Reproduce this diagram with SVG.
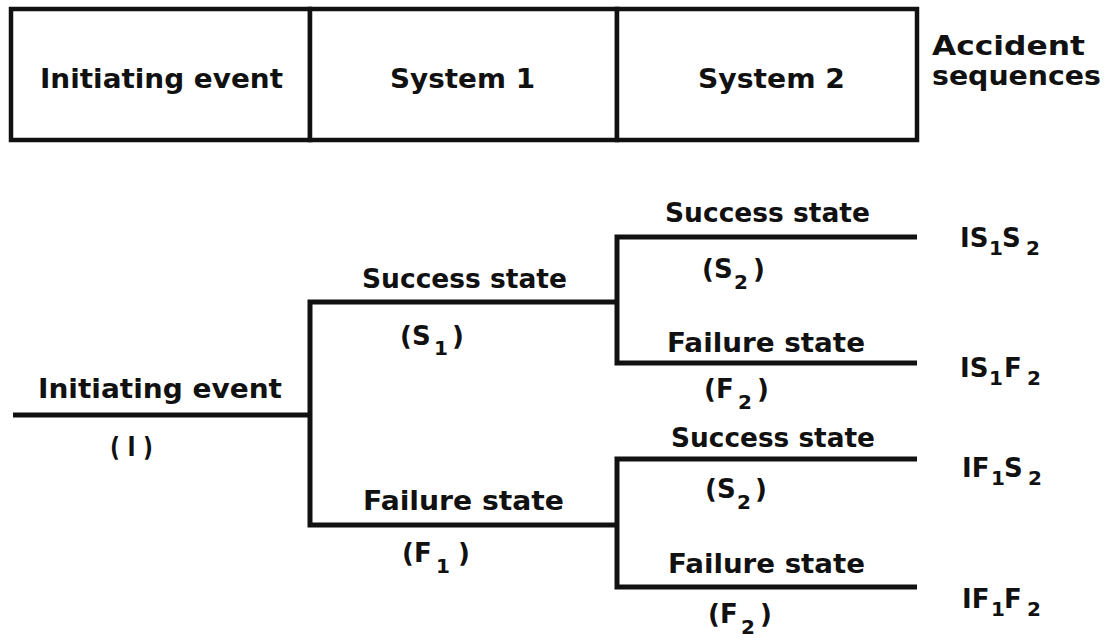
<svg xmlns="http://www.w3.org/2000/svg" width="1105" height="642" viewBox="0 0 1105 642">
<style>
text{font-family:"DejaVu Sans","Liberation Sans",sans-serif;font-weight:bold;font-size:26px;fill:#111}
.sub{font-size:20px}
.ln{fill:none;stroke:#111;stroke-width:5;stroke-linejoin:miter}
.box{fill:#fff;stroke:#111;stroke-width:4.5}
</style>
<rect width="1105" height="642" fill="#fff"/>
<g id="header">
<g id="h-initiating"><rect class="box" x="11" y="9" width="299" height="131"/><text x="40" y="88" textLength="243" lengthAdjust="spacingAndGlyphs">Initiating event</text></g>
<g id="h-system1"><rect class="box" x="310" y="9" width="307" height="131"/><text x="390" y="88" textLength="145" lengthAdjust="spacingAndGlyphs">System 1</text></g>
<g id="h-system2"><rect class="box" x="617" y="9" width="300" height="131"/><text x="698" y="88" textLength="147" lengthAdjust="spacingAndGlyphs">System 2</text></g>
<g id="h-accident"><text x="932" y="55" textLength="153" lengthAdjust="spacingAndGlyphs">Accident</text><text x="932" y="85" textLength="169" lengthAdjust="spacingAndGlyphs">sequences</text></g>
</g>
<g id="connectors">
<path class="ln" d="M13 415 H310"/>
<path class="ln" d="M617 302 H310 V525 H617"/>
<path class="ln" d="M917 237 H617 V363 H917"/>
<path class="ln" d="M917 459 H617 V587 H917"/>
</g>
<g id="n-initiating"><text x="38" y="398" textLength="244" lengthAdjust="spacingAndGlyphs">Initiating event</text><text x="110" y="456" textLength="43" lengthAdjust="spacingAndGlyphs">( I )</text></g>
<g id="n-s1"><text x="362" y="288" textLength="205" lengthAdjust="spacingAndGlyphs">Success state</text><text x="400" y="345">(S<tspan class="sub" x="434" dy="10">1</tspan><tspan x="452" dy="-10">)</tspan></text></g>
<g id="n-f1"><text x="363" y="510" textLength="201" lengthAdjust="spacingAndGlyphs">Failure state</text><text x="402" y="562">(F<tspan class="sub" x="436" dy="11">1</tspan><tspan x="458" dy="-11">)</tspan></text></g>
<g id="n-s1s2"><text x="665" y="222" textLength="205" lengthAdjust="spacingAndGlyphs">Success state</text><text x="702" y="278">(S<tspan class="sub" x="734" dy="11">2</tspan><tspan x="753" dy="-11">)</tspan></text></g>
<g id="n-s1f2"><text x="667" y="352" textLength="198" lengthAdjust="spacingAndGlyphs">Failure state</text><text x="704" y="398">(F<tspan class="sub" x="738" dy="11">2</tspan><tspan x="757" dy="-11">)</tspan></text></g>
<g id="n-f1s2"><text x="671" y="447" textLength="204" lengthAdjust="spacingAndGlyphs">Success state</text><text x="705" y="498">(S<tspan class="sub" x="737" dy="11">2</tspan><tspan x="755" dy="-11">)</tspan></text></g>
<g id="n-f1f2"><text x="668" y="573" textLength="197" lengthAdjust="spacingAndGlyphs">Failure state</text><text x="708" y="623">(F<tspan class="sub" x="741" dy="11">2</tspan><tspan x="760" dy="-11">)</tspan></text></g>
<g id="r1"><text x="960" y="247">IS<tspan class="sub" x="989" dy="8">1</tspan><tspan x="1002" dy="-8">S</tspan><tspan class="sub" x="1026" dy="8">2</tspan></text></g>
<g id="r2"><text x="960" y="377">IS<tspan class="sub" x="989" dy="8">1</tspan><tspan x="1004" dy="-8">F</tspan><tspan class="sub" x="1027" dy="8">2</tspan></text></g>
<g id="r3"><text x="962" y="477">IF<tspan class="sub" x="991" dy="8">1</tspan><tspan x="1004" dy="-8">S</tspan><tspan class="sub" x="1028" dy="8">2</tspan></text></g>
<g id="r4"><text x="962" y="608">IF<tspan class="sub" x="991" dy="8">1</tspan><tspan x="1004" dy="-8">F</tspan><tspan class="sub" x="1027" dy="8">2</tspan></text></g>
</svg>
